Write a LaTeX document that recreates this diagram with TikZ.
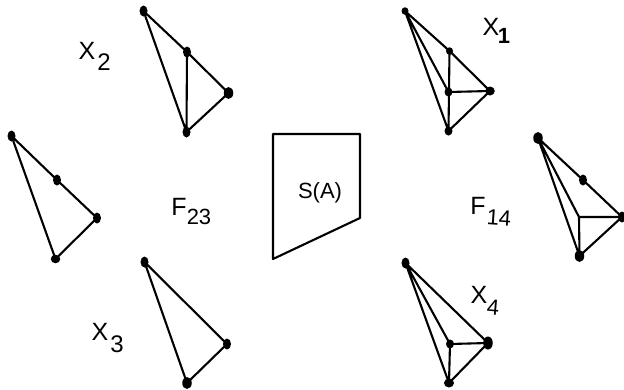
\documentclass[tikz,border=0pt]{standalone}
\usepackage{fontspec}
\setmainfont{Liberation Sans}
\usetikzlibrary{shapes.geometric}
\tikzset{
  dot/.style={ellipse,fill=black,inner sep=0pt,minimum width=8pt,minimum height=11pt},
  wdot/.style={ellipse,fill=black,inner sep=0pt,minimum width=9.5pt,minimum height=12pt},
  sdot/.style={ellipse,fill=black,inner sep=0pt,minimum width=7pt,minimum height=7.5pt},
  edge/.style={draw=black,line width=2.1pt,line join=round},
  lab/.style={inner sep=0pt,font=\fontsize{25}{25}\selectfont},
  subl/.style={inner sep=0pt,font=\fontsize{24}{24}\selectfont},
}
\begin{document}
\begin{tikzpicture}[x=1pt,y=-1pt]
\useasboundingbox (0,0) rectangle (624,389);
% X2
\node[dot] (a1) at (143.5,11) {};
\node[dot] (a2) at (187,52) {};
\node[wdot] (a3) at (228.5,93) {};
\node[dot] (a4) at (186.5,132) {};
\draw[edge] (a1.center)--(a2.center)--(a3.center)--(a4.center)--(a1.center) (a2.center)--(a4.center);
% F23 left
\node[dot] (b1) at (11.5,136) {};
\node[dot] (b2) at (57,180) {};
\node[dot] (b3) at (97,218) {};
\node[wdot,minimum height=8.5pt] (b4) at (55.5,259) {};
\draw[edge] (b1.center)--(b2.center)--(b3.center)--(b4.center)--(b1.center);
% X3
\node[dot] (c1) at (144.5,262) {};
\node[dot] (c2) at (227,344) {};
\node[wdot] (c3) at (187,383) {};
\draw[edge] (c1.center)--(c2.center)--(c3.center)--(c1.center);
% X1
\node[sdot] (d1) at (405,11) {};
\node[sdot] (d2) at (449.5,51) {};
\node[wdot,minimum height=9pt] (d3) at (490,91) {};
\node[wdot,minimum height=9pt,minimum width=8pt] (d4) at (448.5,92) {};
\node[wdot,minimum height=9pt,minimum width=8pt] (d5) at (448.5,131) {};
\draw[edge] (d1.center)--(d2.center)--(d3.center)--(d5.center)--(d1.center)
  (d1.center)--(d4.center)--(d3.center) (d2.center)--(d5.center);
% F14 right
\node[wdot] (e1) at (538,138) {};
\node[dot] (e2) at (583,180) {};
\node[dot] (e3) at (622,217) {};
\coordinate (e4) at (579,217);
\node[wdot] (e5) at (579.5,256) {};
\draw[edge] (e1.center)--(e2.center)--(e3.center)--(e5.center)--(e1.center)
  (e1.center)--(e4)--(e3.center) (e4)--(e5.center);
% X4
\node[dot] (f1) at (405.5,263) {};
\node[dot,minimum height=9pt] (f2) at (450,344) {};
\node[wdot,minimum height=13pt] (f3) at (488,343) {};
\node[wdot,minimum height=9pt,minimum width=10pt] (f4) at (449,383) {};
\draw[edge] (f1.center)--(f3.center)--(f4.center)--(f1.center)
  (f1.center)--(f2.center)--(f3.center) (f2.center)--(f4.center);
% S(A)
\coordinate (s1) at (273,134);
\coordinate (s2) at (360,134);
\coordinate (s3) at (360,218);
\coordinate (s4) at (273,259);
\draw[edge] (s1)--(s2)--(s3)--(s4)--cycle;
\node[inner sep=0pt,font=\fontsize{22}{22}\selectfont] (sa) at (320,193) {S(A)};
% labels
\node[lab] (x2) at (87,51) {X};
\node[subl] (x2s) at (104,62) {2};
\node[lab] (x1) at (491,27) {X};
\node[subl,font=\fontsize{22}{22}\selectfont\bfseries] (x1s) at (504,36) {1};
\node[lab] (f23) at (179,207) {F};
\node[subl,font=\fontsize{22}{22}\selectfont] (f23s) at (199,217) {23};
\node[lab] (f14) at (478,206) {F};
\node[subl,font=\fontsize{22}{22}\selectfont,rotate=-4] (f14s) at (499,218) {14};
\node[lab] (x4) at (479,295) {X};
\node[subl,font=\fontsize{22}{22}\selectfont,rotate=-5] (x4s) at (493,307) {4};
\node[lab] (x3) at (100,332) {X};
\node[subl] (x3s) at (117,344) {3};
\end{tikzpicture}
\end{document}
